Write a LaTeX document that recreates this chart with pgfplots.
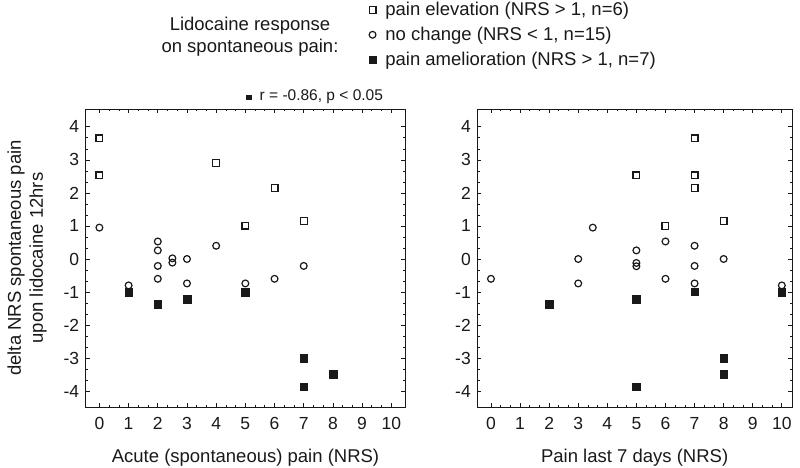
\documentclass[border=0pt]{standalone}
\usepackage{pgfplots}
\pgfplotsset{compat=1.18}
\usepackage{fontspec}
\setmainfont{Liberation Sans}
\definecolor{ink}{RGB}{25,25,25}
\pgfplotsset{
  myax/.style={
    scale only axis,
    height=298pt,
    ymin=-4.48, ymax=4.54,
    xtick={0,...,10}, ytick={-4,...,4},
    tick align=inside,
    major tick length=4pt,
    minor x tick num=2, minor y tick num=2,
    minor tick length=2.2pt,
    axis line style={ink, line width=0.9pt},
    every tick/.style={ink, line width=0.7pt},
    tick label style={font=\fontsize{17.5}{20}\selectfont, text=ink},
    /pgf/number format/assume math mode=true,
    xticklabel style={yshift=-7pt},
    yticklabel style={xshift=-3pt},
    xlabel style={font=\fontsize{18.5}{22}\selectfont, text=ink, yshift=-12pt},
  },
  sq/.style={only marks, mark=square, mark size=3.4pt, mark options={line width=1.2pt, draw=ink, fill=white}},
  ci/.style={only marks, mark=o, mark size=3.4pt, mark options={line width=1.2pt, draw=ink, fill=white}},
  fi/.style={only marks, mark=square*, mark size=3.8pt, mark options={draw=ink, fill=ink}},
}
\begin{document}
\begin{tikzpicture}[x=1pt,y=1pt]
\path[use as bounding box] (0,0) rectangle (800,-468);
% ---------------- left panel ----------------
\begin{axis}[myax,
  at={(85.7pt,-407pt)}, anchor=south west,
  width=319.6pt,
  xmin=-0.47, xmax=10.48,
  xlabel={Acute (spontaneous) pain (NRS)},
  legend style={at={(rel axis cs:0.885,1.365)}, anchor=north west,
    draw=none, fill=none, inner sep=0pt,
    font=\fontsize{18.5}{22}\selectfont, text=ink,
    row sep=6pt,
    /tikz/every odd column/.append style={column sep=7pt}},
  legend cell align=left,
]
\addplot[sq] coordinates {(0,3.65) (0,2.53) (4,2.90) (5,1.01) (6,2.15) (7,1.15)};
\addlegendentry{pain elevation (NRS > 1, n=6)}
\addplot[ci] coordinates {(0,0.95) (1,-0.80) (2,0.53) (2,0.26) (2,-0.21) (2,-0.60)
  (2.5,0.02) (2.5,-0.11) (3,0.0) (3,-0.74) (4,0.40) (5,-0.74) (6,-0.60) (7,-0.21)};
\addlegendentry{no change (NRS < 1, n=15)}
\addplot[fi] coordinates {(1,-1.0) (2,-1.37) (3,-1.22) (5,-1.0) (7,-3.0) (7,-3.86) (8,-3.48)};
\addlegendentry{pain amelioration (NRS > 1, n=7)}
\end{axis}
% ---------------- right panel ----------------
\begin{axis}[myax,
  at={(477.3pt,-407pt)}, anchor=south west,
  width=314.7pt,
  xmin=-0.47, xmax=10.35,
  xlabel={Pain last 7 days (NRS)},
]
\addplot[sq] coordinates {(5,2.53) (6,1.0) (7,3.65) (7,2.53) (7,2.15) (8,1.15)};
\addplot[ci] coordinates {(0,-0.6) (3,0.0) (3,-0.74) (3.5,0.95) (5,0.26) (5,-0.12) (5,-0.22)
  (6,0.53) (6,-0.6) (7,0.4) (7,-0.21) (7,-0.74) (8,0.0) (10,-0.8)};
\addplot[fi] coordinates {(2,-1.37) (5,-1.22) (5,-3.86) (7,-0.99) (8,-3.0) (8,-3.48) (10,-1.0)};
\end{axis}
% ---------------- texts ----------------
\node[align=center, font=\fontsize{18.5}{22}\selectfont, text=ink] at (250,-37)
  {Lidocaine response\\on spontaneous pain:};
\node[anchor=west, font=\fontsize{15.5}{18}\selectfont, text=ink, inner sep=0pt] at (246,-97)
  {\rule[0.5pt]{5.5pt}{5.5pt}\hspace{8pt}r = -0.86, p < 0.05};
\node[rotate=90, align=center, font=\fontsize{18.5}{22}\selectfont, text=ink] at (27,-258)
  {delta NRS spontaneous pain\\upon lidocaine 12hrs};
\end{tikzpicture}
\end{document}
